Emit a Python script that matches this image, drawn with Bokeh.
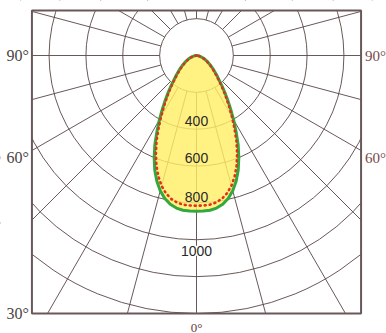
import numpy as np
from bokeh.plotting import figure
from bokeh.models import Range1d, Label
from bokeh.embed import file_html
from bokeh.resources import INLINE

# ---------------- data ----------------
gamma_deg = [0, 2.5, 5, 7.5, 10, 12.5, 15, 17.5, 20, 22.5, 25, 27.5, 30, 32.5, 35, 37.5,
             40, 45, 50, 55, 60, 65, 70, 75, 80, 85, 90]
green_cd = [845, 845, 843, 835, 820, 795, 760, 715, 662, 600, 535, 465, 402, 345, 295, 252,
            215, 160, 122, 93, 70, 52, 36, 23, 13, 5, 0]
red_cd = [815, 815, 813, 805, 790, 766, 732, 688, 636, 576, 513, 446, 385, 330, 282, 241,
          205, 152, 116, 88, 66, 49, 34, 22, 12, 5, 0]

ring_cd = [200, 400, 600, 800, 1000, 1200, 1400]
spoke_deg = list(range(-165, 181, 15))
ring_label_cd = [400, 600, 800, 1000]
ring_label_text = ["400", "600", "800", "1000"]
left_label_deg = [90, 60, 30]
left_label_text = ["90°", "60°", "30°"]
right_label_deg = [90, 60]
right_label_text = ["90°", "60°"]
bottom_label_text = ["0°"]

# ---------------- layout ----------------
S = 258.0 / 1400.0          # px per cd
W, H = 386, 333
CX, CY = 196.0, 55.0        # pole in canvas px
BOX_X = 893.0
BOX_TOP = 244.0
BOX_BOTTOM = -1400.0

p = figure(width=W, height=H, output_backend="svg", toolbar_location=None,
           x_range=Range1d(-CX / S, (W - CX) / S),
           y_range=Range1d(-(H - CY) / S, CY / S),
           min_border=0)
p.axis.visible = False
p.grid.visible = False
p.outline_line_color = None
p.background_fill_color = "white"
p.border_fill_color = "white"

GRID = "#5a4646"


def exit_t(g):
    s, c = np.sin(np.radians(g)), -np.cos(np.radians(g))
    ts = []
    if abs(s) > 1e-9:
        ts.append(BOX_X / abs(s))
    if c < -1e-9:
        ts.append(-BOX_BOTTOM / abs(c))
    elif c > 1e-9:
        ts.append(BOX_TOP / c)
    return min(ts)


# rings
for r in ring_cd:
    p.circle(x=[0], y=[0], radius=r, fill_color=None, line_color=GRID,
             line_width=1.0, line_alpha=0.9)

# spokes
x0, y0, x1, y1 = [], [], [], []
for g in spoke_deg:
    t = exit_t(g)
    s, c = np.sin(np.radians(g)), -np.cos(np.radians(g))
    x0.append(ring_cd[0] * s); y0.append(ring_cd[0] * c)
    x1.append(t * s); y1.append(t * c)
p.segment(x0=x0, y0=y0, x1=x1, y1=y1, line_color=GRID, line_width=1.0, line_alpha=0.9)

# white masks outside the frame
xr0, xr1 = -CX / S, (W - CX) / S
yr0, yr1 = -(H - CY) / S, CY / S
p.quad(left=[xr0, BOX_X, xr0, xr0], right=[-BOX_X, xr1, xr1, xr1],
       bottom=[yr0, yr0, BOX_TOP, yr0], top=[yr1, yr1, yr1, BOX_BOTTOM],
       fill_color="white", line_color=None)

# frame
p.quad(left=[-BOX_X], right=[BOX_X], bottom=[BOX_BOTTOM], top=[BOX_TOP],
       fill_color=None, line_color="#6a5858", line_width=2)


def curve(vals):
    g = np.radians(np.array(gamma_deg, dtype=float))
    v = np.array(vals, dtype=float)
    ga = np.concatenate([-g[::-1], g[1:]])
    va = np.concatenate([v[::-1], v[1:]])
    return va * np.sin(ga), -va * np.cos(ga)


gx, gy = curve(green_cd)
rx, ry = curve(red_cd)
p.patch(gx, gy, fill_color="#ffee66", fill_alpha=0.82, line_color=None)
p.line(gx, gy, line_color="#33a83c", line_width=3, line_join="round")
p.line(rx, ry, line_color="#e0301e", line_width=2.6, line_dash="1 4", line_cap="round")

# ring labels
offs = [8, 8, 6, -11]
for v, t, o in zip(ring_label_cd, ring_label_text, offs):
    p.add_layout(Label(x=0, y=-v, text=t, y_offset=o, text_align="center",
                       text_baseline="middle", text_font="Liberation Sans",
                       text_font_size="14px", text_color="#2a2a2a",
                       background_fill_color="white" if v >= 1000 else None))

# angle labels
for g, t in zip(left_label_deg, left_label_text):
    tt = exit_t(g)
    y = max(-tt * np.cos(np.radians(g)), BOX_BOTTOM)
    yo = -7 if g == 60 else 0
    p.add_layout(Label(x=-BOX_X, y=y, text=t, x_offset=-3, y_offset=yo,
                       text_align="right", text_baseline="middle",
                       text_font="Liberation Serif", text_font_size="16px",
                       text_color="#4a4444"))
for g, t in zip(right_label_deg, right_label_text):
    tt = exit_t(g)
    y = max(-tt * np.cos(np.radians(g)), BOX_BOTTOM)
    yo = -7 if g == 60 else 0
    p.add_layout(Label(x=BOX_X, y=y, text=t, x_offset=4, y_offset=yo,
                       text_align="left", text_baseline="middle",
                       text_font="Liberation Serif", text_font_size="15px",
                       text_color="#7a4848"))
for t in bottom_label_text:
    p.add_layout(Label(x=0, y=BOX_BOTTOM, text=t, y_offset=-6,
                       text_align="center", text_baseline="top",
                       text_font="Liberation Serif", text_font_size="13px",
                       text_color="#6a3a3a"))

open("out.html", "w").write(file_html(p, INLINE))
